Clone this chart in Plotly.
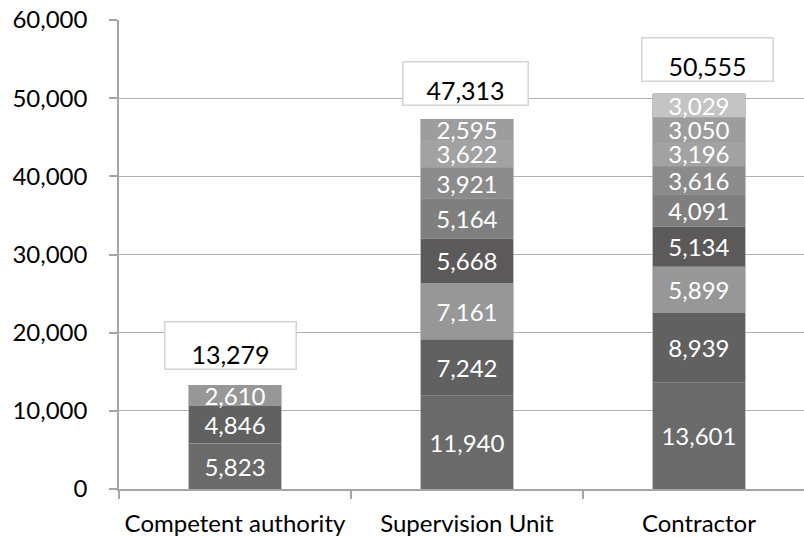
import plotly.graph_objects as go

categories = ["Competent authority", "Supervision Unit", "Contractor"]

# Stacked components, bottom to top (None where a category has no such component)
level1 = [5823, 11940, 13601]
level2 = [4846, 7242, 8939]
level3 = [2610, 7161, 5899]
level4 = [None, 5668, 5134]
level5 = [None, 5164, 4091]
level6 = [None, 3921, 3616]
level7 = [None, 3622, 3196]
level8 = [None, 2595, 3050]
level9 = [None, None, 3029]

levels = [level1, level2, level3, level4, level5, level6, level7, level8, level9]
colors = ["#6a6a6a", "#616161", "#979797", "#5b5959", "#7f7f7f",
          "#8b8b8b", "#a2a2a2", "#9d9d9d", "#c4c4c4"]

y_ticks = [0, 10000, 20000, 30000, 40000, 50000, 60000]

FONT = "Lato"

fig = go.Figure()
for vals, col in zip(levels, colors):
    fig.add_trace(go.Bar(
        x=categories,
        y=vals,
        width=0.4,
        marker=dict(color=col, line=dict(color="#9a9a9a", width=0.6)),
        text=[f"{v:,}" if v is not None else "" for v in vals],
        textposition="inside",
        insidetextanchor="middle",
        constraintext="none",
        textfont=dict(family=FONT, size=24, color="white"),
        hoverinfo="skip",
    ))

totals = [sum(v[i] for v in levels if v[i] is not None) for i in range(len(categories))]

# Total boxes above each stack
box_specs = [
    dict(xshift=-4, yshift=40, width=130, height=46),
    dict(xshift=-1, yshift=36, width=124, height=42),
    dict(xshift=9, yshift=34, width=130, height=42),
]
for cat, tot, spec in zip(categories, totals, box_specs):
    fig.add_annotation(
        x=cat, y=tot, xref="x", yref="y",
        text=f"{tot:,}", showarrow=False,
        xshift=spec["xshift"], yshift=spec["yshift"],
        width=spec["width"], height=spec["height"],
        valign="bottom",
        bgcolor="white", bordercolor="#d4d4d4", borderwidth=1.5, borderpad=0,
        font=dict(family=FONT, size=25, color="#000000"),
    )

fig.update_layout(
    barmode="stack",
    width=804, height=537,
    margin=dict(l=119, r=0, t=20, b=48),
    paper_bgcolor="white",
    plot_bgcolor="white",
    showlegend=False,
    bargap=0.6,
)
fig.update_xaxes(
    range=[-0.5, 2.453],
    showline=True, linecolor="#a6a6a6", linewidth=1.5,
    ticks="outside", tickson="boundaries", ticklen=8, tickcolor="#a6a6a6", tickwidth=1.5,
    tickfont=dict(family=FONT, size=24, color="#000000"),
    ticklabelstandoff=12,
    showgrid=False, zeroline=False,
)
fig.update_yaxes(
    range=[0, 60000],
    tickvals=y_ticks,
    tickformat=",d",
    showline=True, linecolor="#a6a6a6", linewidth=1.5,
    ticks="outside", ticklen=8, tickcolor="#a6a6a6", tickwidth=1.5,
    showgrid=True, gridcolor="#b0b0b0", gridwidth=1,
    zeroline=False,
    tickfont=dict(family=FONT, size=24, color="#000000"),
    ticklabelstandoff=17,
)

fig.write_html("out.html")
